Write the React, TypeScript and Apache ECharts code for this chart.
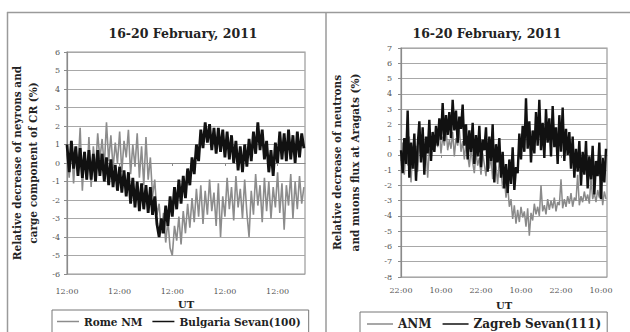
import React, { useEffect, useRef } from "react";
import * as echarts from "echarts";

// ---- tick labels ----
const leftTickLabels = ["12:00", "12:00", "12:00", "12:00", "12:00"];
const rightTickLabels = ["22:00", "10:00", "22:00", "10:00", "22:00", "10:00"];

// ---- sampling (hours between samples) ----
const leftStepHours = 1;
const rightStepHours = 0.5;

// ---- left panel: Rome NM (gray) ----
const romeNM = [
  0.5, -0.8, 1.2, -1.1, 0.8, -0.3, 1.9, -1.5, 0.6, -0.9,
  1.4, -1.3, 0.9, -0.4, 1.6, 0.2, 1.3, -0.2, 2.2, 0.1,
  1.5, -0.3, 1.1, 0.0, 1.7, -0.5, 1.2, 0.3, 1.8, -0.6,
  1.0, -0.2, 1.6, -0.8, 0.9, -1.2, 1.4, -0.9, 0.3, -1.8,
  -0.9, -2.8, -2.2, -3.8, -2.7, -4.3, -3.1, -4.6, -5.0, -3.4,
  -4.2, -2.9, -4.4, -2.6, -3.8, -2.2, -3.5, -1.9, -3.2, -1.4,
  -2.9, -1.2, -3.3, -1.5, -2.8, -0.9, -2.6, -1.6, -3.4, -1.1,
  -4.0, -1.8, -2.9, -0.8, -2.5, -1.3, -3.1, -0.7, -2.4, -1.4,
  -3.0, -0.9, -2.7, -4.0, -1.5, -2.8, -0.6, -2.3, -1.2, -3.2,
  -0.8, -2.6, -1.0, -3.0, -1.3, -2.4, -0.5, -2.7, -1.1, -3.6,
  -1.2, -2.3, -0.6, -3.0, -1.0, -2.5, -0.7, -2.2, -1.3,
];

// ---- left panel: Bulgaria Sevan(100) (black) ----
const bulgariaSevan = [
  1.0, -0.5, 1.2, -0.3, 0.9, -0.7, 0.8, -0.8, 0.6, -0.9,
  0.7, -0.9, 0.5, -1.0, 0.7, -0.7, 0.5, -1.0, 0.3, -1.2,
  0.2, -1.3, -0.1, -1.5, -0.2, -1.6, -0.4, -1.8, -0.5, -2.2,
  -0.8, -2.4, -1.0, -2.6, -1.1, -2.5, -1.2, -2.7, -1.3, -2.8,
  -1.8, -3.3, -4.0, -3.0, -3.8, -2.3, -3.4, -1.8, -2.9, -1.3,
  -2.5, -0.9, -2.2, -0.7, -1.9, -0.3, -1.2, 0.3, -0.6, 1.0,
  0.1, 1.8, 0.8, 2.2, 1.1, 2.1, 0.7, 1.9, 0.5, 1.9,
  0.6, 1.8, 0.3, 1.7, 0.2, 1.5, 0.0, 1.2, -0.4, 0.9,
  -0.5, 1.0, -0.2, 1.3, 0.1, 1.7, 0.5, 2.2, 0.7, 1.8,
  0.2, 1.2, -0.5, 0.7, -0.7, 1.1, 0.0, 1.7, 0.2, 1.6,
  0.1, 1.8, 0.2, 1.5, 0.0, 1.7, 0.3, 1.6, 0.8,
];

// ---- right panel: ANM (gray) ----
const anm = [
  -0.4, 0.8, -1.3, 0.5, -0.7, 1.2, -1.8, 0.3, -0.9, 0.6,
  -1.1, 0.9, -0.2, 1.4, -0.6, 0.7, -1.5, 0.4, 0.0, 1.1,
  0.2, 1.3, 0.5, 1.6, 0.1, 1.2, 0.6, 1.8, 0.3, 1.0,
  0.4, 1.5, -0.1, 1.1, 0.6, 1.7, 0.2, 0.9, -0.3, 0.8,
  0.0, -0.8, 0.4, -0.5, -1.2, 0.2, -0.7, -0.2, -1.3, 0.1,
  -0.6, -1.4, 0.3, -0.9, -0.1, -1.6, -0.4, -0.8, -1.9, -0.3,
  -1.0, -2.2, -1.4, -2.8, -2.0, -3.4, -2.9, -4.2, -3.3, -4.5,
  -3.6, -4.4, -3.4, -4.1, -3.7, -4.7, -3.5, -5.3, -3.8, -4.3,
  -3.2, -3.9, -3.4, -4.0, -2.0, -3.7, -3.3, -3.9, -2.9, -3.6,
  -3.0, -3.5, -2.8, -3.7, -3.1, -3.3, -1.6, -3.5, -2.9, -3.4,
  -2.7, -3.2, -2.5, -3.4, -2.8, -3.0, -1.3, -3.3, -2.7, -3.1,
  -2.4, -3.0, -2.6, -3.2, -1.5, -2.9, -2.5, -3.1, -2.3, -2.8,
  -1.6, -3.3, -2.4, -2.9,
];

// ---- right panel: Zagreb Sevan(111) (black) ----
const zagrebSevan = [
  0.3, -1.2, 1.1, -0.6, 2.9, -1.5, 0.8, -0.9, 1.4, -1.7,
  0.6, 2.2, -0.5, 1.8, -1.3, 1.2, 0.1, 2.3, -0.4, 1.5,
  0.2, 1.9, 0.6, 2.4, 1.0, 3.4, 0.9, 2.6, 1.3, 2.8,
  1.1, 3.6, 1.6, 2.9, 0.8, 2.5, 1.7, 3.3, 0.6, 2.0,
  -0.3, 1.6, 0.2, 2.1, -0.6, 1.3, -0.1, 1.9, -0.8, 1.0,
  0.3, 1.8, -1.1, 1.2, -0.4, 2.0, -1.8, 0.7, -0.5, 1.1,
  -1.5, 0.2, -2.2, -0.6, -2.5, -0.3, -1.9, 0.5, -2.3, -0.8,
  -1.2, 1.4, -0.3, 1.9, 0.2, 3.7, 0.4, 2.2, -0.5, 1.6,
  0.1, 2.8, 0.6, 3.6, 0.3, 2.1, -0.2, 3.0, 0.8, 2.4,
  -0.1, 3.2, 0.5, 1.8, -0.6, 2.6, 0.2, 3.1, -0.4, 1.7,
  0.0, 1.5, -0.9, 1.2, -1.5, 0.4, -1.1, 0.9, -2.0, 0.2,
  -1.3, 0.9, -2.2, -0.1, -1.6, 0.6, -2.6, -0.4, -1.4, 0.8,
  -2.9, -0.2, -1.8, 0.4,
];

const SERIF = "DejaVu Serif";
const toPairs = (arr: number[], step: number) => arr.map((v, i) => [i * step, v]);

export default function App() {
  const ref = useRef<HTMLDivElement>(null);

  useEffect(() => {
    if (!ref.current) return;
    const chart = echarts.init(ref.current, null, { renderer: "svg" });

    const tickLabel = {
      fontFamily: SERIF,
      fontSize: 8,
      color: "#555",
    };
    const axisLine = { lineStyle: { color: "#8a8a8a", width: 1.2 } };
    const splitLine = { show: true, lineStyle: { color: "#a8a8a8", width: 1.2 } };
    const yName = {
      fontFamily: SERIF,
      fontWeight: "bold" as const,
      fontSize: 10.5,
      color: "#222",
      lineHeight: 16,
    };
    const xName = {
      fontFamily: SERIF,
      fontWeight: "bold" as const,
      fontSize: 10,
      color: "#222",
    };

    chart.setOption({
      animation: false,
      backgroundColor: "#fff",
      title: [
        {
          text: "16-20 February, 2011",
          left: 178,
          top: 22,
          textAlign: "center",
          textStyle: { fontFamily: SERIF, fontWeight: "bold", fontSize: 12.5, color: "#222" },
        },
        {
          text: "16-20 February, 2011",
          left: 482,
          top: 22,
          textAlign: "center",
          textStyle: { fontFamily: SERIF, fontWeight: "bold", fontSize: 12.5, color: "#222" },
        },
      ],
      legend: [
        {
          data: ["Rome NM", "Bulgaria Sevan(100)"],
          left: 52,
          top: 310,
          orient: "horizontal",
          icon: "rect",
          itemWidth: 22,
          itemHeight: 1.5,
          itemGap: 10,
          padding: [6, 8, 8, 5],
          borderColor: "#777",
          borderWidth: 1,
          textStyle: { fontFamily: SERIF, fontWeight: "bold", fontSize: 10.5, color: "#222" },
        },
        {
          data: ["ANM", "Zagreb Sevan(111)"],
          left: 360,
          top: 312,
          orient: "horizontal",
          icon: "rect",
          itemWidth: 26,
          itemHeight: 1.5,
          itemGap: 11,
          padding: [6, 6, 8, 7],
          borderColor: "#777",
          borderWidth: 1,
          textStyle: { fontFamily: SERIF, fontWeight: "bold", fontSize: 12, color: "#222" },
        },
      ],
      grid: [
        { left: 67, top: 52, width: 238, height: 222, show: true, borderColor: "#9a9a9a", borderWidth: 1.2, outerBoundsMode: "none" },
        { left: 401, top: 48, width: 206, height: 229, show: true, borderColor: "#9a9a9a", borderWidth: 1.2, outerBoundsMode: "none" },
      ],
      xAxis: [
        {
          gridIndex: 0,
          type: "value",
          min: 0,
          max: 108.5,
          interval: 24,
          name: "UT",
          nameLocation: "middle",
          nameGap: 24,
          nameTextStyle: xName,
          axisLine,
          axisTick: { show: true, length: 3, lineStyle: { color: "#8a8a8a" } },
          splitLine: { show: false },
          axisLabel: {
            ...tickLabel,
            margin: 13,
            showMaxLabel: false,
            formatter: (v: number) => (v % 24 === 0 ? leftTickLabels[Math.round(v / 24)] ?? "" : ""),
          },
        },
        {
          gridIndex: 1,
          type: "value",
          min: 0,
          max: 61.8,
          interval: 12,
          name: "UT",
          nameLocation: "middle",
          nameGap: 23,
          nameTextStyle: xName,
          axisLine,
          axisTick: { show: true, length: 3, lineStyle: { color: "#8a8a8a" } },
          splitLine: { show: false },
          axisLabel: {
            ...tickLabel,
            margin: 9,
            showMaxLabel: false,
            formatter: (v: number) => (v % 12 === 0 ? rightTickLabels[Math.round(v / 12)] ?? "" : ""),
          },
        },
      ],
      yAxis: [
        {
          gridIndex: 0,
          type: "value",
          min: -6,
          max: 6,
          interval: 1,
          name: "Relative decrease of neyrons and\ncarge component of CR (%)",
          nameLocation: "middle",
          nameRotate: 90,
          nameGap: 26,
          nameTextStyle: yName,
          axisLine: { show: true, ...axisLine },
          axisTick: { show: true, length: 3, lineStyle: { color: "#8a8a8a" } },
          splitLine,
          axisLabel: { ...tickLabel, margin: 7 },
        },
        {
          gridIndex: 1,
          type: "value",
          min: -8,
          max: 7,
          interval: 1,
          name: "Relative decrease of neutrons\nand muons flux at Aragats (%)",
          nameLocation: "middle",
          nameRotate: 90,
          nameGap: 37,
          nameTextStyle: { ...yName, lineHeight: 18 },
          axisLine: { show: true, ...axisLine },
          axisTick: { show: true, length: 3, lineStyle: { color: "#8a8a8a" } },
          splitLine,
          axisLabel: { ...tickLabel, margin: 9 },
        },
      ],
      series: [
        {
          name: "Rome NM",
          type: "line",
          xAxisIndex: 0,
          yAxisIndex: 0,
          data: toPairs(romeNM, leftStepHours),
          symbol: "none",
          lineStyle: { color: "#8c8c8c", width: 1.6 },
          itemStyle: { color: "#8c8c8c" },
        },
        {
          name: "Bulgaria Sevan(100)",
          type: "line",
          xAxisIndex: 0,
          yAxisIndex: 0,
          data: toPairs(bulgariaSevan, leftStepHours),
          symbol: "none",
          lineStyle: { color: "#111", width: 2.8 },
          itemStyle: { color: "#111" },
        },
        {
          name: "ANM",
          type: "line",
          xAxisIndex: 1,
          yAxisIndex: 1,
          data: toPairs(anm, rightStepHours),
          symbol: "none",
          lineStyle: { color: "#8a8a8a", width: 1.5 },
          itemStyle: { color: "#8a8a8a" },
        },
        {
          name: "Zagreb Sevan(111)",
          type: "line",
          xAxisIndex: 1,
          yAxisIndex: 1,
          data: toPairs(zagrebSevan, rightStepHours),
          symbol: "none",
          lineStyle: { color: "#111", width: 2.4 },
          itemStyle: { color: "#111" },
        },
      ],
      graphic: [
        { type: "line", shape: { x1: 7, y1: 12.5, x2: 630, y2: 12.5 }, style: { stroke: "#9a9a9a", lineWidth: 1.5 } },
        { type: "line", shape: { x1: 7.5, y1: 12, x2: 7.5, y2: 332 }, style: { stroke: "#9a9a9a", lineWidth: 1.5 } },
        { type: "line", shape: { x1: 326, y1: 12, x2: 326, y2: 332 }, style: { stroke: "#9a9a9a", lineWidth: 1.5 } },
      ],
    });

    return () => chart.dispose();
  }, []);

  return (
    <div
      ref={ref}
      style={{ position: "absolute", left: 0, top: 0, width: 630, height: 332, background: "#fff" }}
    />
  );
}
